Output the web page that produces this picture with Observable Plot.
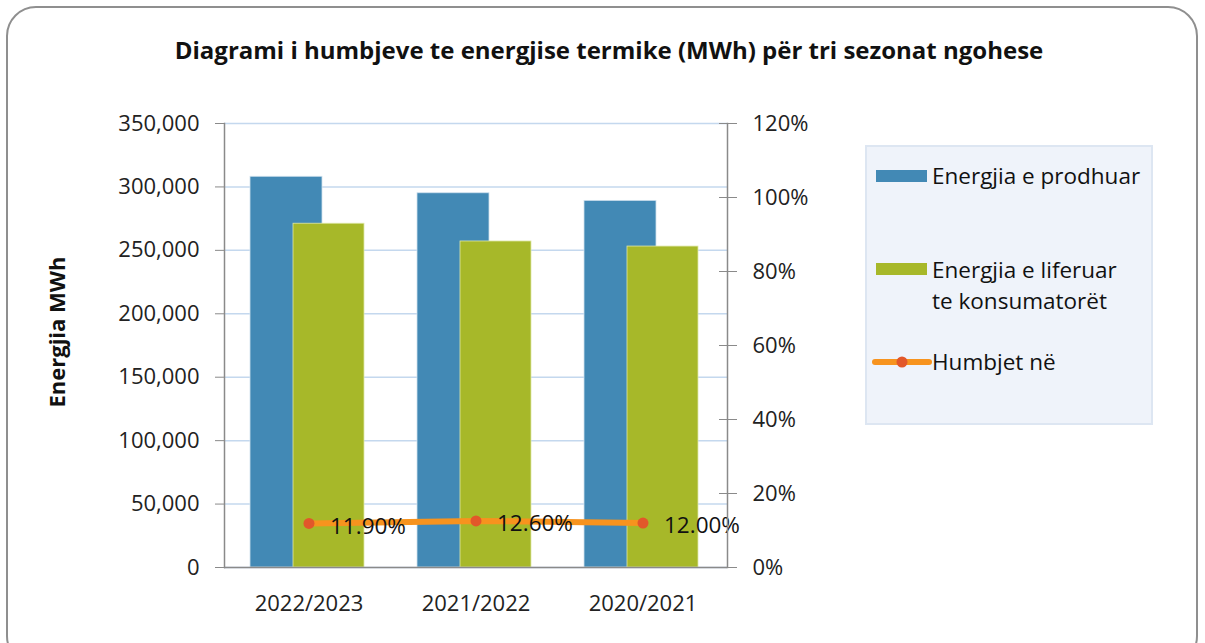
<!DOCTYPE html>
<html>
<head>
<meta charset="utf-8">
<script src="https://cdn.jsdelivr.net/npm/d3@7"></script>
<script src="https://cdn.jsdelivr.net/npm/@observablehq/plot@0.6"></script>
<style>
  html, body { margin: 0; padding: 0; background: #fff; }
  #wrap { position: relative; width: 1205px; height: 643px; overflow: hidden; font-family: "Open Sans", sans-serif; }
  #border { position: absolute; left: 6px; top: 6px; width: 1192px; height: 660px; border: 2px solid #8f8f8f; border-radius: 30px; box-sizing: border-box; }
  #chart { position: absolute; left: 0; top: 0; }
  #title { position: absolute; left: 0; width: 1218px; top: 33px; text-align: center; font-weight: bold; font-size: 24px; color: #111; }
  #ytitle { position: absolute; left: 56px; top: 332px; transform: translate(-50%, -50%) rotate(-90deg); font-weight: bold; font-size: 22px; color: #111; white-space: nowrap; }
  #legend { position: absolute; left: 865px; top: 145px; width: 288px; height: 280px; background: #eff3fa; border: 2px solid #dde6f2; box-sizing: border-box; font-size: 22.5px; color: #111; }
  .sw { position: absolute; left: 9px; width: 51px; height: 12px; }
  .lt { position: absolute; left: 65px; line-height: 31px; white-space: nowrap; }
</style>
</head>
<body>
<div id="wrap">
  <div id="border"></div>
  <div id="chart"></div>
  <div id="title">Diagrami i humbjeve te energjise termike (MWh) për tri sezonat ngohese</div>
  <div id="ytitle">Energjia MWh</div>
  <div id="legend"></div>
</div>
<script>
const seasons = ["2022/2023", "2021/2022", "2020/2021"];
const produced = [308000, 295000, 289000];
const delivered = [271000, 257000, 253000];
const lossPct = [0.119, 0.126, 0.120];
const lossLabels = ["11.90%", "12.60%", "12.00%"];
const leftTicks = [0, 50000, 100000, 150000, 200000, 250000, 300000, 350000];
const rightTicks = [0, 0.2, 0.4, 0.6, 0.8, 1.0, 1.2];
const seriesNames = ["Energjia e prodhuar", "Energjia e liferuar te konsumatorët", "Humbjet në"];

const blue = "#4289b5", green = "#a7b829", orange = "#f7931e", marker = "#e2572a";
const yMax = 350000, pMax = 1.2;
const toY = p => p / pMax * yMax;

const prodData = seasons.map((s, i) => ({season: s, value: produced[i]}));
const delData = seasons.map((s, i) => ({season: s, value: delivered[i]}));
const lossData = seasons.map((s, i) => ({season: s, y: toY(lossPct[i]), label: lossLabels[i]}));

const plot = Plot.plot({
  width: 1205,
  height: 643,
  marginTop: 123,
  marginBottom: 76,
  marginLeft: 224,
  marginRight: 478,
  style: {fontFamily: "Open Sans, sans-serif", fontSize: "22px", color: "#222", background: "transparent"},
  x: {type: "band", domain: seasons, padding: 0, label: null},
  y: {domain: [0, yMax], label: null},
  marks: [
    Plot.ruleY(leftTicks, {stroke: "#c4d8ee", strokeWidth: 1.5}),
    Plot.barY(prodData, {x: "season", y: "value", fill: blue, stroke: "#cfe0ee", strokeWidth: 0.8, insetLeft: 25, insetRight: 70}),
    Plot.barY(delData, {x: "season", y: "value", fill: green, stroke: "#dfe8a8", strokeWidth: 0.8, insetLeft: 68, insetRight: 28}),
    Plot.line(lossData, {x: "season", y: "y", stroke: orange, strokeWidth: 6, strokeLinecap: "round"}),
    Plot.dot(lossData, {x: "season", y: "y", r: 5.5, fill: marker, stroke: "none"}),
    Plot.text(lossData, {x: "season", y: "y", text: "label", textAnchor: "start", dx: 21, dy: 3, fill: "#111", fontSize: 22.5}),
    Plot.ruleY([0], {stroke: "#8a8a8a", strokeWidth: 1.5}),
    Plot.frame({anchor: "left", stroke: "#8a8a8a", strokeWidth: 1.5}),
    Plot.frame({anchor: "right", stroke: "#8a8a8a", strokeWidth: 1.5}),
    Plot.axisY({anchor: "left", ticks: leftTicks, tickFormat: d3.format(","), tickSize: 9, tickPadding: 16, stroke: "#8a8a8a", label: null}),
    Plot.axisY({anchor: "right", ticks: rightTicks.map(toY), tickFormat: v => Math.round(v / yMax * pMax * 100) + "%", tickSize: 9, tickPadding: 16, stroke: "#8a8a8a", label: null}),
    Plot.axisY({anchor: "right", ticks: rightTicks.map(toY), tickFormat: () => "", tickSize: -9, stroke: "#8a8a8a", label: null}),
    Plot.axisX({tickSize: 0, tickPadding: 28, label: null})
  ]
});
document.getElementById("chart").appendChild(plot);

// legend (HTML, using same series names and colours)
const lg = document.getElementById("legend");
lg.innerHTML = `
  <div class="sw" style="top:23px;background:${blue}"></div>
  <div class="lt" style="top:13px">${seriesNames[0]}</div>
  <div class="sw" style="top:116px;background:${green}"></div>
  <div class="lt" style="top:107px">Energjia e liferuar<br>te konsumatorët</div>
  <svg style="position:absolute;left:4px;top:203px" width="62" height="24">
    <line x1="4" y1="12" x2="58" y2="12" stroke="${orange}" stroke-width="6" stroke-linecap="round"/>
    <circle cx="31" cy="12" r="5.5" fill="${marker}"/>
  </svg>
  <div class="lt" style="top:199px">${seriesNames[2]}</div>`;
</script>
</body>
</html>
